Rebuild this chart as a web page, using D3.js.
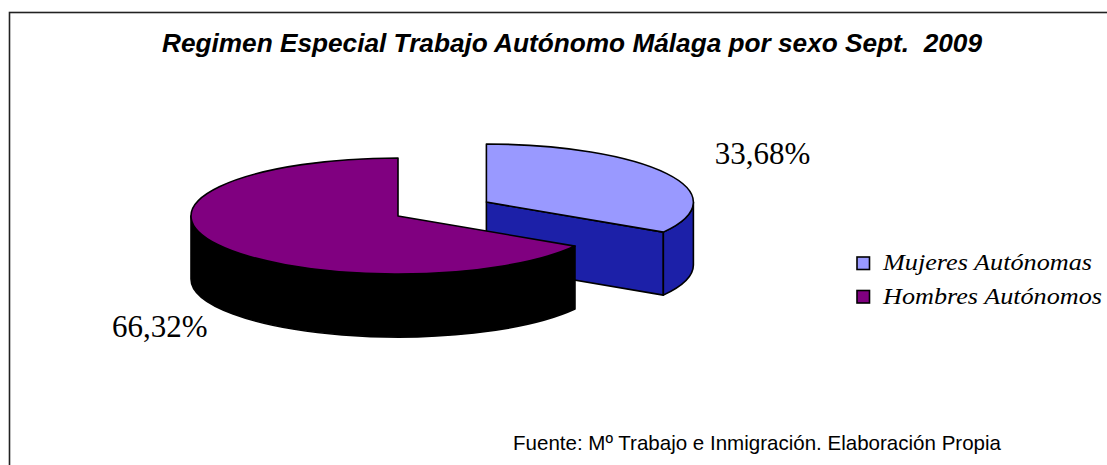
<!DOCTYPE html>
<html>
<head>
<meta charset="utf-8">
<script src="https://cdn.jsdelivr.net/npm/d3@7/dist/d3.min.js"></script>
<style>
  body { margin: 0; background: #fff; }
  svg { display: block; }
</style>
</head>
<body>
<div id="chart"></div>
<script>
// Data
var categories = ["Mujeres Autónomas", "Hombres Autónomos"];
var shares = [33.68, 66.32];
var topColors = ["#9999ff", "#800080"];
var sideColors = ["#1c20a8", "#000000"];

var title = "Regimen Especial Trabajo Autónomo Málaga por sexo Sept.  2009";
var source = "Fuente: Mº Trabajo e Inmigración. Elaboración Propia";

// Layout
var width = 1107, height = 465;
var cx = 398, cy = 216;      // pie centre (top face)
var rx = 207, ry = 58;       // ellipse radii of the tilted pie
var depth = 63;              // thickness of the pie
var explode = [0.49, 0];     // explode ratio per slice
var labelOffset = [[48, -10], [-10, 30]];

var svg = d3.select("#chart").append("svg")
  .attr("width", width)
  .attr("height", height);

// chart frame (only top and left edges are inside the crop)
svg.append("rect")
  .attr("x", 9.5).attr("y", 12.5)
  .attr("width", 1300).attr("height", 700)
  .attr("fill", "none")
  .attr("stroke", "#222")
  .attr("stroke-width", 1.6);

svg.append("text")
  .attr("x", 162).attr("y", 52)
  .attr("textLength", 820)
  .attr("lengthAdjust", "spacingAndGlyphs")
  .style("white-space", "pre")
  .style("font-family", "'Liberation Sans', Arial, sans-serif")
  .style("font-size", "25px")
  .style("font-weight", "bold")
  .style("font-style", "italic")
  .text(title);

var data = categories.map(function (c, i) { return { name: c, value: shares[i] }; });

var color = d3.scaleOrdinal().domain(categories).range(topColors);
var side = d3.scaleOrdinal().domain(categories).range(sideColors);

var pie = d3.pie().sort(null).value(function (d) { return d.value; });
var arcs = pie(data);

// point on the ellipse at angle a (clockwise from 12 o'clock)
function pt(c, a, r, dz) {
  return [c[0] + rx * r * Math.sin(a), c[1] - ry * r * Math.cos(a) + (dz || 0)];
}
function ellArc(p, large, sweep) {
  return "A" + rx + "," + ry + " 0 " + large + "," + sweep + " " + p[0] + "," + p[1];
}

arcs.forEach(function (d, i) {
  var mid = (d.startAngle + d.endAngle) / 2;
  var e = explode[i];
  d.center = [cx + rx * e * Math.sin(mid), cy - ry * e * Math.cos(mid)];
  d.mid = mid;
});

// draw back slices first
var order = arcs.slice().sort(function (a, b) { return a.center[1] - b.center[1]; });

var g = svg.append("g")
  .attr("stroke", "#000")
  .attr("stroke-width", 1.6)
  .attr("stroke-linejoin", "round");

order.forEach(function (d) {
  var c = d.center;
  var a0 = d.startAngle, a1 = d.endAngle;
  var sg = g.append("g");

  // radial cut faces facing the viewer
  [[a0, -1], [a1, 1]].forEach(function (f) {
    var a = f[0];
    if (f[1] * Math.sin(a) > 1e-6) {
      var p = pt(c, a, 1);
      sg.append("path")
        .attr("d", "M" + c + "L" + p + "L" + [p[0], p[1] + depth] + "L" + [c[0], c[1] + depth] + "Z")
        .attr("fill", side(d.data.name));
    }
  });

  // outer wall, front half only
  var s = Math.max(a0, Math.PI / 2), t = Math.min(a1, 3 * Math.PI / 2);
  if (t > s) {
    var p0 = pt(c, s, 1), p1 = pt(c, t, 1);
    sg.append("path")
      .attr("d", "M" + p0 + ellArc(p1, 0, 1) + "L" + [p1[0], p1[1] + depth] +
        ellArc([p0[0], p0[1] + depth], 0, 0) + "Z")
      .attr("fill", side(d.data.name));
  }

  // top face
  var q0 = pt(c, a0, 1), q1 = pt(c, a1, 1);
  sg.append("path")
    .attr("d", "M" + c + "L" + q0 + ellArc(q1, (a1 - a0) > Math.PI ? 1 : 0, 1) + "Z")
    .attr("fill", color(d.data.name));
});

// percentage labels
arcs.forEach(function (d, i) {
  var right = Math.sin(d.mid) > 0;
  var p = pt(d.center, d.mid, 1, Math.cos(d.mid) < 0 ? depth : 0);
  svg.append("text")
    .attr("x", p[0] + labelOffset[i][0])
    .attr("y", p[1] + labelOffset[i][1])
    .attr("text-anchor", right ? "start" : "end")
    .style("font-family", "'Liberation Serif', 'Times New Roman', serif")
    .style("font-size", "31px")
    .text(d.data.value.toFixed(2).replace(".", ",") + "%");
});

// legend
var legend = svg.append("g").attr("transform", "translate(857,257)");
var li = legend.selectAll("g")
  .data(categories)
  .enter().append("g")
  .attr("transform", function (d, i) { return "translate(0," + i * 33.5 + ")"; });

li.append("rect")
  .attr("width", 12.5).attr("height", 12.5)
  .attr("fill", function (d) { return color(d); })
  .attr("stroke", "#000")
  .attr("stroke-width", 1.6);

li.append("text")
  .attr("x", 26).attr("y", 13)
  .attr("textLength", function (d, i) { return i ? 219 : 209; })
  .attr("lengthAdjust", "spacingAndGlyphs")
  .style("font-family", "'Liberation Serif', 'Times New Roman', serif")
  .style("font-style", "italic")
  .style("font-size", "23px")
  .text(function (d) { return d; });

svg.append("text")
  .attr("x", 513).attr("y", 450)
  .attr("textLength", 488)
  .attr("lengthAdjust", "spacingAndGlyphs")
  .style("font-family", "'Liberation Sans', Arial, sans-serif")
  .style("font-size", "21px")
  .text(source);
</script>
</body>
</html>
